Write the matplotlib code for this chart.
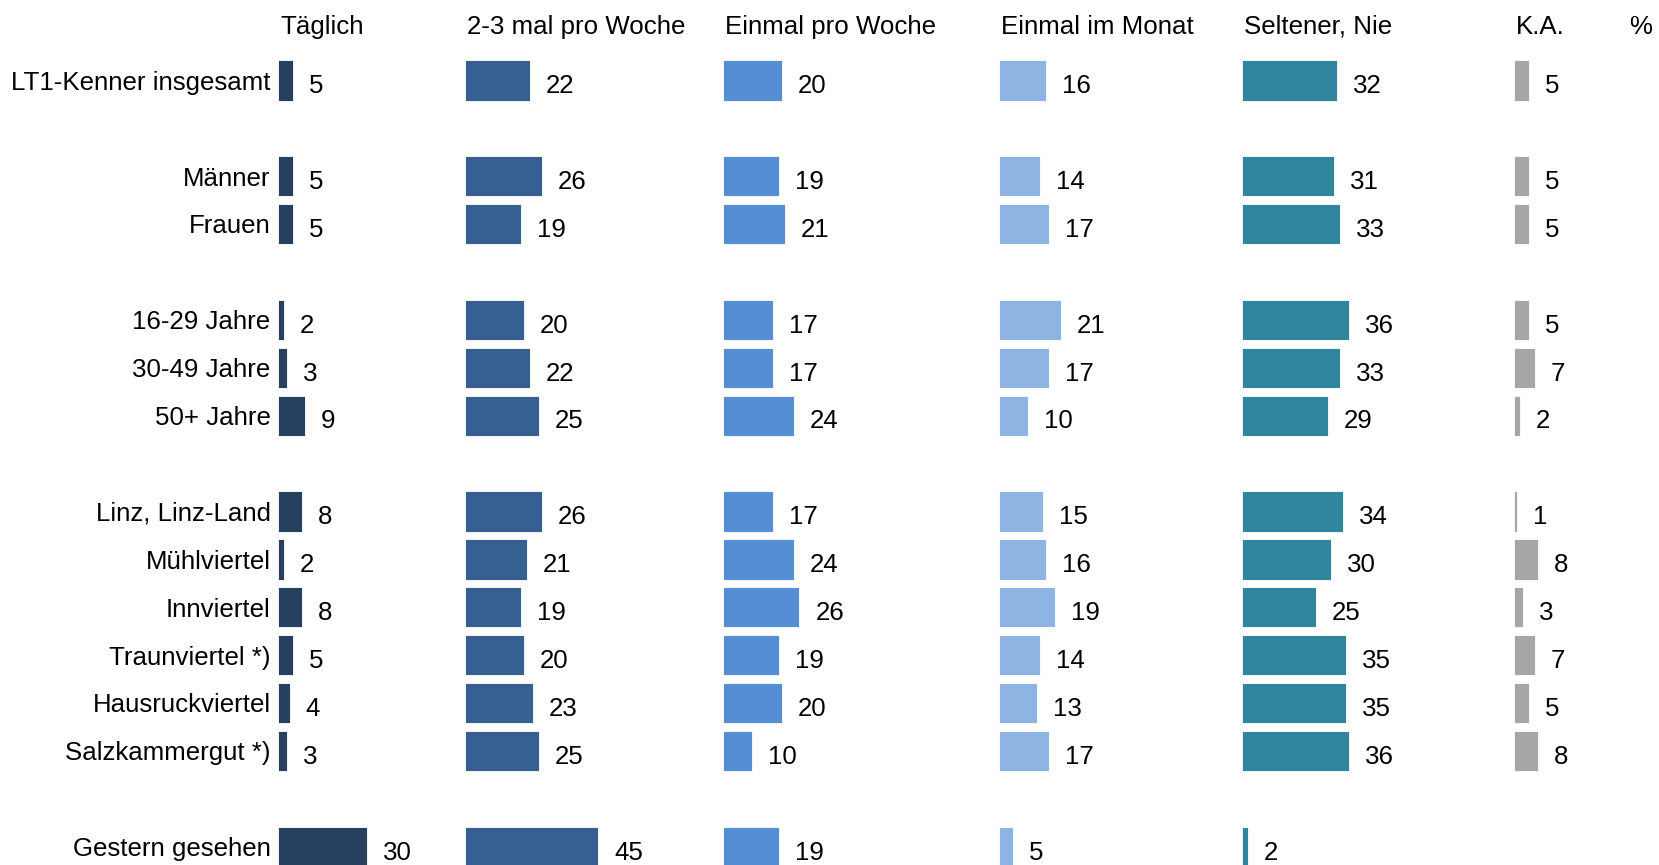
import numpy as np
import matplotlib
matplotlib.use("Agg")
import matplotlib.pyplot as plt

plt.rcParams['font.family'] = ['Liberation Sans', 'DejaVu Sans']

categories = ['LT1-Kenner insgesamt', 'Männer', 'Frauen', '16-29 Jahre', '30-49 Jahre',
              '50+ Jahre', 'Linz, Linz-Land', 'Mühlviertel', 'Innviertel', 'Traunviertel *)',
              'Hausruckviertel', 'Salzkammergut *)', 'Gestern gesehen']
# row slot of each category (blank slots separate the groups)
slots = [0, 2, 3, 5, 6, 7, 9, 10, 11, 12, 13, 14, 16]

columns = ['Täglich', '2-3 mal pro Woche', 'Einmal pro Woche', 'Einmal im Monat', 'Seltener, Nie', 'K.A.']
taeglich = [5, 5, 5, 2, 3, 9, 8, 2, 8, 5, 4, 3, 30]
mal_2_3 = [22, 26, 19, 20, 22, 25, 26, 21, 19, 20, 23, 25, 45]
pro_woche = [20, 19, 21, 17, 17, 24, 17, 24, 26, 19, 20, 10, 19]
im_monat = [16, 14, 17, 21, 17, 10, 15, 16, 19, 14, 13, 17, 5]
seltener = [32, 31, 33, 36, 33, 29, 34, 30, 25, 35, 35, 36, 2]
k_a = [5, 5, 5, 5, 7, 2, 1, 8, 3, 7, 5, 8, None]

series = [taeglich, mal_2_3, pro_woche, im_monat, seltener, k_a]
colors = ['#27405F', '#366092', '#558ED5', '#8EB4E3', '#31859C', '#A6A6A6']

W, H = 1659, 865
px_per_unit = 2.96
col_px = [278, 465, 722.5, 998.5, 1242, 1514]
offsets = [p / px_per_unit for p in col_px]

row0_px, row_step = 80.4, 47.9

fig = plt.figure(figsize=(W / 100, H / 100), dpi=100)
ax = fig.add_axes([0, 0, 1, 1])
ax.set_xlim(0, W / px_per_unit)
ax.set_ylim((H - row0_px) / row_step, -row0_px / row_step)
ax.axis('off')

fs = 18.6
gap = 16 / px_per_unit
for vals, off, col, name in zip(series, offsets, colors, columns):
    for s, v in zip(slots, vals):
        if v is None:
            continue
        ax.barh(s, v, left=off, height=0.84, color=col, edgecolor='white', linewidth=0.6)
        ax.text(off + v + gap, s + 0.12, str(v), va='center', ha='left', fontsize=fs)
    ax.text(off + 0.8, -1.12, name, va='center', ha='left', fontsize=fs)

ax.text(1629 / px_per_unit, -1.12, '%', va='center', ha='left', fontsize=fs)

for s, c in zip(slots, categories):
    ax.text(offsets[0] - 2.5, s + 0.05, c, va='center', ha='right', fontsize=fs)

fig.savefig('out.png', dpi=100)
